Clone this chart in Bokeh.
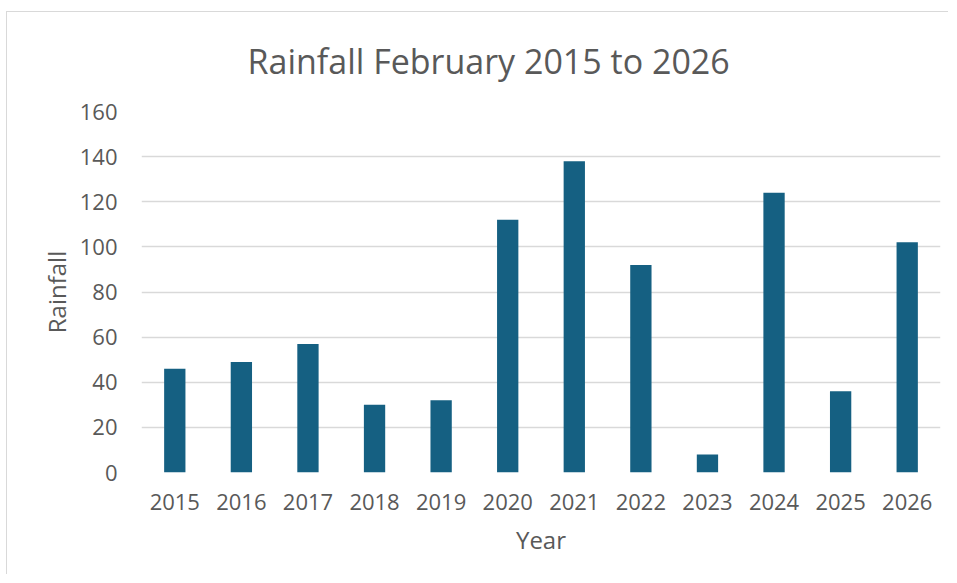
from bokeh.plotting import figure
from bokeh.models import FactorRange, Range1d, FixedTicker, ColumnDataSource
from bokeh.embed import file_html
from bokeh.resources import INLINE

years = ["2015", "2016", "2017", "2018", "2019", "2020", "2021", "2022", "2023", "2024", "2025", "2026"]
rainfall = [46, 49, 57, 30, 32, 112, 138, 92, 8, 124, 36, 102]
y_ticks = [0, 20, 40, 60, 80, 100, 120, 140, 160]

FONT = "Open Sans"
GREY = "#595959"

src = ColumnDataSource(dict(year=years, rain=rainfall))

p = figure(
    x_range=FactorRange(*years), y_range=Range1d(0, 160),
    width=942, height=563, output_backend="svg", toolbar_location=None,
    title="Rainfall February 2015 to 2026\n",
    min_border_left=134, min_border_right=9, min_border_top=99, min_border_bottom=103,
)
p.vbar(x="year", top="rain", width=0.32, source=src, fill_color="#156082", line_color=None)

p.title.align = "left"
p.title.offset = 106
p.title.text_font = FONT
p.title.text_font_size = "34px"
p.title.text_font_style = "normal"
p.title.text_color = GREY
p.title.text_line_height = 0.6
p.title.standoff = 0

p.outline_line_color = None
p.xgrid.grid_line_color = None
p.ygrid.grid_line_color = "#d9d9d9"
p.ygrid.grid_line_width = 1.5
p.yaxis.ticker = FixedTicker(ticks=y_ticks)

for ax in (p.xaxis[0], p.yaxis[0]):
    ax.axis_line_color = None
    ax.major_tick_line_color = None
    ax.minor_tick_line_color = None
    ax.major_label_text_font = FONT
    ax.major_label_text_font_size = "22px"
    ax.major_label_text_color = GREY
    ax.axis_label_text_font = FONT
    ax.axis_label_text_font_size = "24px"
    ax.axis_label_text_font_style = "normal"
    ax.axis_label_text_color = GREY

p.yaxis.axis_label = "Rainfall"
p.xaxis.axis_label = "Year"
p.yaxis.major_label_standoff = 18
p.xaxis.major_label_standoff = 15
p.yaxis.axis_label_standoff = 4
p.xaxis.axis_label_standoff = 10
p.styles = {"margin-left": "6px", "margin-top": "11px",
            "border-left": "1px solid #d9d9d9", "border-top": "1px solid #d9d9d9"}

open("out.html", "w").write(file_html(p, INLINE))
